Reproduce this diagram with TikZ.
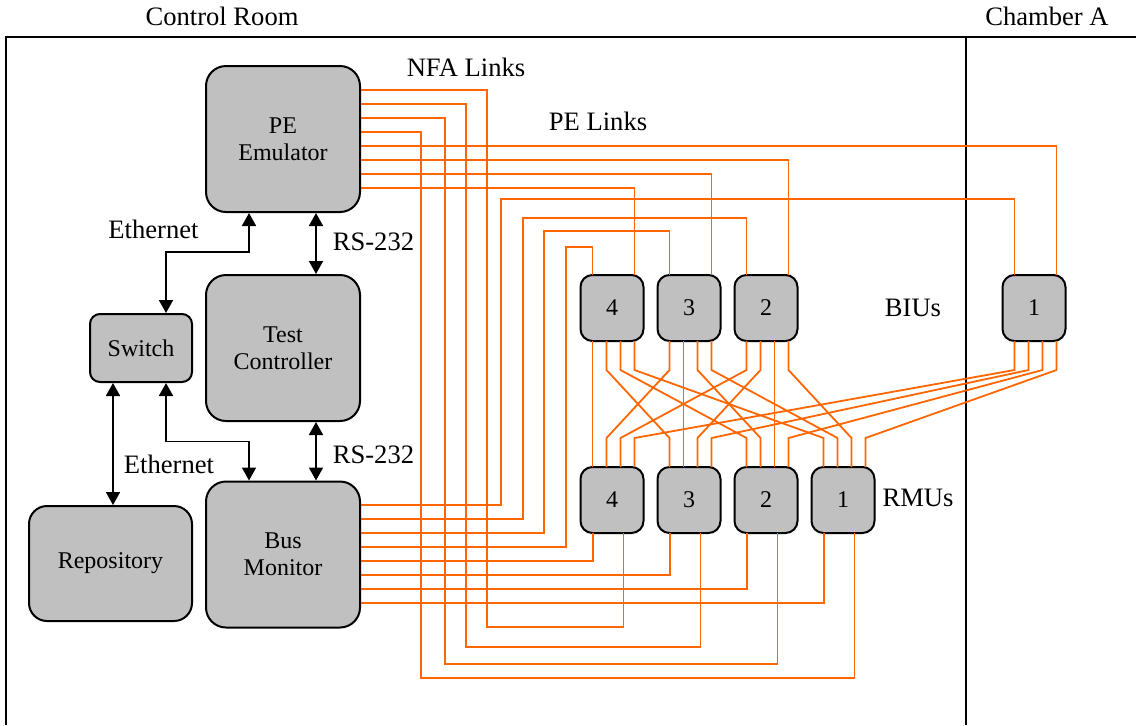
\documentclass[tikz,border=0pt]{standalone}
\usepackage{fontspec}
\setmainfont{Liberation Serif}
\usetikzlibrary{arrows.meta}
\definecolor{boxgray}{HTML}{C0C0C0}
\definecolor{linkorange}{HTML}{FF6600}

\begin{document}
\begin{tikzpicture}[x=0.5pt, y=-0.5pt,
        every node/.style={font=\fontsize{12}{13.5}\selectfont},
        tag/.style={font=\fontsize{13.3}{16}\selectfont},
        unit/.style={draw, line width=1pt, fill=boxgray, rounded corners=6pt, inner sep=0pt, align=center},
        bigunit/.style={unit, minimum width=77pt, minimum height=73pt, rounded corners=10pt},
        smallunit/.style={unit, minimum width=31.5pt, minimum height=33pt},
        link/.style={draw=linkorange, line width=0.9pt},
        biarrow/.style={line width=0.9pt, {Triangle[length=6.5pt,width=7pt]}-{Triangle[length=6.5pt,width=7pt]}},
        frame/.style={line width=0.9pt}]
    \useasboundingbox (0,0) rectangle (1136,725);

    % rooms
    \draw[frame] (6,725) -- (6,37) -- (1136,37);
    \draw[frame] (966,37) -- (966,725);
    \node[tag] (croom) at (222,16) {Control Room};
    \node[tag] (chamber) at (1047,16) {Chamber A};

    % control room equipment
    \node[bigunit] (pe) at (283,139) {PE\\Emulator};
    \node[bigunit] (tc) at (283,348) {Test\\Controller};
    \node[bigunit] (bm) at (283,554.5) {Bus\\Monitor};
    \node[unit, minimum width=51pt, minimum height=34pt, rounded corners=5pt] (sw) at (141,348) {Switch};
    \node[unit, minimum width=81.5pt, minimum height=57.5pt, rounded corners=9pt] (repo) at (110.5,563.5) {Repository};

    \draw[biarrow] (sw.north -| 166,0) |- (249,252) -- (pe.south -| 249,0);
    \draw[biarrow] (pe.south -| 316,0) -- (tc.north -| 316,0);
    \draw[biarrow] (tc.south -| 316,0) -- (bm.north -| 316,0);
    \draw[biarrow] (sw.south -| 166,0) |- (249,441.5) -- (bm.north -| 249,0);
    \draw[biarrow] (sw.south -| 113,0) -- (repo.north -| 113,0);

    \node[tag] (eth1) at (153.5,229) {Ethernet};
    \node[tag] (rs1) at (373.5,242) {RS-232};
    \node[tag] (eth2) at (169,464) {Ethernet};
    \node[tag] (rs2) at (373.5,455) {RS-232};

    % BIUs and RMUs with their pins
    \foreach \n/\xa in {4/612, 3/689, 2/766, 1/1034} {
        \node[smallunit] (biu\n) at (\xa,308) {\n};
        \coordinate (biu\n-in1) at (\xa-19.5,275);
        \coordinate (biu\n-in2) at (\xa+22.5,275);
        \foreach \k in {1,...,4}
            \coordinate (biu\n-out\k) at (\xa-33.5+14*\k,341);
    }
    \foreach \n/\xa in {4/612, 3/689, 2/766, 1/843} {
        \node[smallunit] (rmu\n) at (\xa,500) {\n};
        \foreach \k in {1,...,4}
            \coordinate (rmu\n-in\k) at (\xa-33.5+14*\k,467);
        \coordinate (rmu\n-out1) at (\xa-19,533);
        \coordinate (rmu\n-out2) at (\xa+11.5,533);
    }
    \node[tag] (biulabel) at (913,308) {BIUs};
    \node[tag] (rmulabel) at (918,498) {RMUs};
    \node[tag] (nfa) at (466,67) {NFA Links};
    \node[tag] (pelinks) at (598,121) {PE Links};

    % links
    \foreach \y/\n in {146/1, 160/2, 174/3, 188/4}
        \draw[link] (pe.east |- 0,\y) -| (biu\n-in2);
    \foreach \y/\xa/\yb/\n in {90/487/627/4, 104/466/647/3, 118/445/664/2, 132/421/678/1}
        \draw[link] (pe.east |- 0,\y) -| (\xa,\yb) -| (rmu\n-out2);
    \foreach \y/\xa/\yb/\n in {505/501/199/1, 519/523/218/2, 533/544/231/3, 547/566/247/4}
        \draw[link] (bm.east |- 0,\y) -| (\xa,\yb) -| (biu\n-in1);
    \foreach \y/\n in {561/4, 575/3, 589/2, 603/1}
        \draw[link] (bm.east |- 0,\y) -| (rmu\n-out1);
    \foreach \n in {1,...,4}
        \foreach \k in {1,...,4} {
            \pgfmathtruncatemacro\m{5-\k}
            \pgfmathtruncatemacro\p{5-\n}
            \draw[link] (biu\n-out\k) -- ++(0,29) -- (rmu\m-in\p |- 0,438) -- (rmu\m-in\p);
        }
\end{tikzpicture}
\end{document}
